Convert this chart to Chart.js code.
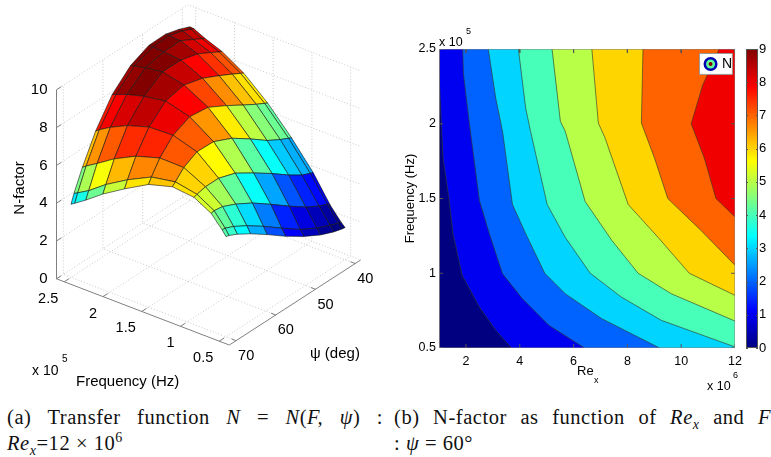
<!DOCTYPE html>
<html>
<head>
<meta charset="utf-8">
<script src="https://cdn.jsdelivr.net/npm/chart.js@4"></script>
<style>
  html, body { margin: 0; padding: 0; background: #fff; overflow: hidden; }
  body { width: 771px; height: 457px; position: relative; }
  canvas { position: absolute; }
  .cap { position: absolute; font-family: "Liberation Serif", serif; font-size: 20.5px; letter-spacing: 0.55px; line-height: 22px; white-space: nowrap; color: #111; }
  .just { text-align-last: justify; white-space: normal; }
  .cap sub { font-size: 14px; line-height: 0; }
  .cap sup { font-size: 14px; line-height: 0; }
</style>
</head>
<body>
<canvas id="surfaceChart" width="395" height="400" style="left:0;top:0"></canvas>
<canvas id="contourChart" width="345" height="374" style="left:403px;top:24px"></canvas>
<canvas id="colorbarChart" width="25" height="374" style="left:746px;top:24px"></canvas>
<div class="cap just" style="left:7px;top:406px;width:376px">(a) Transfer function <i>N</i> = <i>N</i>(<i>F, ψ</i>) :</div>
<div class="cap" style="left:7px;top:432px"><i>Re<sub>x</sub></i>=12 × 10<sup>6</sup></div>
<div class="cap just" style="left:394px;top:406px;width:377px">(b) N-factor as function of <i>Re<sub>x</sub></i> and <i>F</i></div>
<div class="cap" style="left:394px;top:432px">: <i>ψ</i> = 60°</div>
<script>
// surface grid (a)
const freqGrid = [0.5, 0.549, 0.691, 0.912, 1.191, 1.5, 1.809, 2.088, 2.309, 2.451, 2.5];
const psiGrid = [70, 69.26, 67.14, 63.82, 59.64, 55, 50.36, 46.18, 42.86, 40.74, 40];
// one row per psi, one column per frequency
const nGrid = [
  [5.30, 5.58, 6.23, 6.73, 6.85, 6.49, 5.77, 5.06, 4.39, 4.00, 3.87],
  [5.26, 5.57, 6.27, 6.79, 7.01, 6.78, 6.15, 5.46, 4.79, 4.45, 4.34],
  [5.04, 5.37, 6.20, 6.90, 7.48, 7.50, 7.11, 6.53, 5.94, 5.58, 5.43],
  [4.61, 4.96, 5.88, 6.90, 7.86, 8.25, 8.20, 7.84, 7.40, 7.05, 6.89],
  [4.00, 4.36, 5.37, 6.60, 7.83, 8.66, 9.01, 8.82, 8.57, 8.34, 8.26],
  [3.28, 3.63, 4.67, 5.98, 7.38, 8.53, 9.22, 9.48, 9.35, 9.22, 9.17],
  [2.64, 2.93, 3.94, 5.32, 6.71, 7.99, 8.95, 9.47, 9.56, 9.60, 9.61],
  [2.15, 2.44, 3.32, 4.67, 6.06, 7.45, 8.52, 9.23, 9.58, 9.63, 9.63],
  [1.86, 2.14, 2.93, 4.22, 5.66, 7.04, 8.15, 8.85, 9.20, 9.43, 9.43],
  [1.73, 1.95, 2.73, 4.02, 5.44, 6.80, 7.90, 8.60, 8.95, 9.23, 9.25],
  [1.70, 1.89, 2.58, 3.96, 5.36, 6.72, 7.82, 8.52, 8.87, 9.15, 9.18]
];
const nTicks = [0, 2, 4, 6, 8, 10];
const freqTicks = [0.5, 1, 1.5, 2, 2.5];
const psiTicks = [40, 50, 60, 70];

// contour lines (b), level k+1 separates band k from band k+1
const contourRe = [
  [1, 1.15, 1.37, 1.52, 1.86, 2.5, 3.11, 3.69],
  [1.88, 1.91, 2.13, 2.5, 2.87, 3.36, 4.10, 5.08, 6.41],
  [2.83, 3.11, 3.36, 3.73, 4.22, 4.93, 5.69, 7.05, 9.2],
  [3.95, 4.22, 4.40, 5.02, 5.69, 6.62, 7.78, 9.26, 12],
  [5.2, 5.51, 5.69, 6.43, 7.42, 8.4, 9.63, 12],
  [6.68, 6.92, 7.17, 8.03, 9.14, 10.3, 12],
  [8.58, 8.52, 9.01, 9.5, 10.73, 12],
  [11.41, 10.8, 10.37, 10.86, 11.29, 12]
];
const contourFreq = [
  [2.33, 1.77, 1.5, 1.265, 0.986, 0.774, 0.618, 0.5],
  [2.5, 2.33, 2.0, 1.488, 1.265, 0.997, 0.83, 0.652, 0.5],
  [2.5, 2.17, 1.95, 1.46, 1.265, 1.0, 0.863, 0.696, 0.5],
  [2.5, 2.105, 1.95, 1.46, 1.24, 1.0, 0.84, 0.685, 0.507],
  [2.5, 2.016, 1.95, 1.48, 1.22, 1.0, 0.863, 0.68],
  [2.5, 2.005, 1.905, 1.46, 1.24, 1.0, 0.852],
  [2.5, 2.005, 1.77, 1.5, 1.287, 1.053],
  [2.5, 2.26, 2.0, 1.77, 1.5, 1.376]
];
const reTicks = [2, 4, 6, 8, 10, 12];
const barTicks = [0, 1, 2, 3, 4, 5, 6, 7, 8, 9];
const barMax = [9];

const AXIS_GREY = '#808080';
const GRID_GREY = '#c8c8c8';
const SANS = '"Liberation Sans", Arial, sans-serif';
// axis limits of the 3D box
const F_LOW = 0.37, F_HIGH = 2.6, PSI_LOW = 38.6, PSI_HIGH = 71.7, N_TOP = 10;
const SURF_CMIN = 1.7, SURF_CMAX = 9.5;

function jet(t) {
  t = Math.min(1, Math.max(0, t));
  const c = v => Math.round(255 * Math.min(1, Math.max(0, v)));
  return `rgb(${c(1.5 - Math.abs(4 * t - 3))},${c(1.5 - Math.abs(4 * t - 2))},${c(1.5 - Math.abs(4 * t - 1))})`;
}

// orthographic view used for panel (a)
function project(f, psi, n) {
  return {
    x: 226 - 77.5 * (f - 0.5) + 3.97 * (70 - psi),
    y: 336.8 - 29.7 * (f - 0.5) - 2.57 * (70 - psi) - 18.9 * n
  };
}

function line(points, color, width, dash) {
  return { data: points, showLine: true, fill: false, borderColor: color, borderWidth: width,
    borderDash: dash || [], pointRadius: 0, tension: 0 };
}
function shape(points, color, edge, width) {
  return { data: points, showLine: true, fill: 'shape', backgroundColor: color, borderColor: edge,
    borderWidth: width, pointRadius: 0, tension: 0 };
}

// draws every text of a chart, items given in page pixels
const textPlugin = {
  id: 'texts',
  afterDraw(chart, args, opts) {
    const ctx = chart.ctx;
    for (const t of opts.items || []) {
      ctx.save();
      ctx.translate(t.x - (opts.originX || 0), t.y - (opts.originY || 0));
      if (t.rotate) ctx.rotate(t.rotate);
      ctx.font = t.font || `14px ${SANS}`;
      ctx.fillStyle = '#000';
      ctx.textAlign = t.align || 'left';
      ctx.textBaseline = 'middle';
      ctx.fillText(t.text, 0, 0);
      ctx.restore();
    }
  }
};
Chart.register(textPlugin);

function buildSurface() {
  const sets = [];
  const tickMark = (a, b) => sets.push(line([a, b], AXIS_GREY, 1));

  // walls and floor
  nTicks.forEach(n => {
    sets.push(line([project(F_HIGH, PSI_HIGH, n), project(F_HIGH, PSI_LOW, n), project(F_LOW, PSI_LOW, n)], GRID_GREY, 1, [1, 2]));
  });
  freqTicks.forEach(f => {
    sets.push(line([project(f, PSI_HIGH, 0), project(f, PSI_LOW, 0), project(f, PSI_LOW, N_TOP)], GRID_GREY, 1, [1, 2]));
  });
  psiTicks.forEach(p => {
    sets.push(line([project(F_LOW, p, 0), project(F_HIGH, p, 0), project(F_HIGH, p, N_TOP)], GRID_GREY, 1, [1, 2]));
  });

  // axes
  sets.push(line([project(F_HIGH, PSI_HIGH, 0), project(F_HIGH, PSI_HIGH, N_TOP)], AXIS_GREY, 1));
  sets.push(line([project(F_HIGH, PSI_HIGH, 0), project(F_LOW, PSI_HIGH, 0), project(F_LOW, PSI_LOW, 0)], AXIS_GREY, 1));
  nTicks.forEach(n => tickMark(project(F_HIGH, PSI_HIGH, n), project(F_HIGH, PSI_HIGH - 1.2, n)));
  freqTicks.forEach(f => tickMark(project(f, PSI_HIGH, 0), project(f, PSI_HIGH - 1.2, 0)));
  psiTicks.forEach(p => tickMark(project(F_LOW, p, 0), project(F_LOW + 0.06, p, 0)));

  // surface cells, back to front, flat colour taken from one corner as surf does
  for (let j = psiGrid.length - 2; j >= 0; j--) {
    for (let i = freqGrid.length - 2; i >= 0; i--) {
      const corners = [[i, j], [i + 1, j], [i + 1, j + 1], [i, j + 1], [i, j]];
      const pts = corners.map(([a, b]) => project(freqGrid[a], psiGrid[b], nGrid[b][a]));
      const level = nGrid[j + 1][i];
      sets.push(shape(pts, jet((level - SURF_CMIN) / (SURF_CMAX - SURF_CMIN)), 'rgba(20,20,20,0.75)', 0.8));
    }
  }
  return sets.reverse();
}

function surfaceTexts() {
  const items = [];
  nTicks.forEach(n => {
    const p = project(F_HIGH, PSI_HIGH, n);
    items.push({ text: String(n), x: p.x - 9, y: p.y, align: 'right', font: `15px ${SANS}` });
  });
  freqTicks.forEach(f => {
    const p = project(f, PSI_HIGH, 0);
    items.push({ text: String(f), x: p.x - 6, y: p.y + 17, align: 'right', font: `14.5px ${SANS}` });
  });
  psiTicks.forEach(v => {
    const p = project(F_LOW, v, 0);
    items.push({ text: String(v), x: p.x + 2, y: p.y + 15.5, font: `14.5px ${SANS}` });
  });
  items.push({ text: 'x 10', x: 32, y: 371, font: `14px ${SANS}` });
  items.push({ text: '5', x: 62, y: 359, font: `10px ${SANS}` });
  items.push({ text: 'Frequency (Hz)', x: 76, y: 382, font: `15px ${SANS}` });
  items.push({ text: 'ψ (deg)', x: 310, y: 354, font: `15px ${SANS}` });
  items.push({ text: 'N-factor', x: 20, y: 188, align: 'center', rotate: -Math.PI / 2, font: `15px ${SANS}` });
  return items;
}

const hiddenScale = (min, max, reverse) => ({ type: 'linear', min, max, reverse, display: false });

new Chart(document.getElementById('surfaceChart'), {
  type: 'scatter',
  data: { datasets: buildSurface() },
  options: {
    responsive: false,
    animation: false,
    layout: { padding: 0 },
    scales: { x: hiddenScale(0, 395, false), y: hiddenScale(0, 400, true) },
    plugins: {
      legend: { display: false },
      tooltip: { enabled: false },
      texts: { items: surfaceTexts() }
    }
  }
});

function buildContour() {
  const sets = [];
  const RE_MIN = 1, RE_MAX = 12, F_MIN = 0.5, F_MAX = 2.5;
  // lowest band fills the whole plot, each next level is painted over it
  sets.push(shape([{ x: RE_MIN, y: F_MIN }, { x: RE_MAX, y: F_MIN }, { x: RE_MAX, y: F_MAX }, { x: RE_MIN, y: F_MAX }, { x: RE_MIN, y: F_MIN }], jet(0), jet(0), 0));
  contourRe.forEach((res, k) => {
    const pts = res.map((r, m) => ({ x: r, y: contourFreq[k][m] }));
    const area = pts.concat([{ x: RE_MAX, y: F_MIN }, { x: RE_MAX, y: F_MAX }, { x: RE_MIN, y: F_MAX }]);
    if (pts[0].x > RE_MIN) area.push({ x: pts[0].x, y: F_MAX });
    area.push(pts[0]);
    sets.push(shape(area, jet((k + 1) / 9), 'rgba(0,0,0,0)', 0));
  });
  contourRe.forEach((res, k) => {
    sets.push(line(res.map((r, m) => ({ x: r, y: contourFreq[k][m] })), 'rgba(50,60,40,0.8)', 0.8));
  });
  // inward ticks
  reTicks.forEach(r => {
    sets.push(line([{ x: r, y: F_MIN }, { x: r, y: F_MIN + 0.027 }], '#555', 1));
    sets.push(line([{ x: r, y: F_MAX }, { x: r, y: F_MAX - 0.027 }], '#555', 1));
  });
  freqTicks.forEach(f => {
    sets.push(line([{ x: RE_MIN, y: f }, { x: RE_MIN + 0.15, y: f }], '#555', 1));
    sets.push(line([{ x: RE_MAX, y: f }, { x: RE_MAX - 0.15, y: f }], '#555', 1));
  });
  // frame
  sets.push(line([{ x: RE_MIN, y: F_MIN }, { x: RE_MAX, y: F_MIN }, { x: RE_MAX, y: F_MAX }, { x: RE_MIN, y: F_MAX }, { x: RE_MIN, y: F_MIN }], AXIS_GREY, 1));
  // legend box with its ring symbol
  sets.push(shape([{ x: 10.68, y: 2.33 }, { x: 11.9, y: 2.33 }, { x: 11.9, y: 2.47 }, { x: 10.68, y: 2.47 }, { x: 10.68, y: 2.33 }], '#fff', '#999', 1));
  [[7, jet(0.05)], [4.5, jet(0.47)], [2, jet(1)]].forEach(([radius, color]) => {
    sets.push({ data: [{ x: 11.09, y: 2.4 }], pointRadius: radius, pointBackgroundColor: color, pointBorderWidth: 0, showLine: false });
  });
  return sets.reverse();
}

const tickFont = { family: SANS, size: 12.5 };

new Chart(document.getElementById('contourChart'), {
  type: 'scatter',
  data: { datasets: buildContour() },
  options: {
    responsive: false,
    animation: false,
    layout: { padding: { top: 25, right: 10 } },
    scales: {
      x: {
        type: 'linear', min: 1, max: 12,
        afterFit: s => { s.height = 50; },
        afterBuildTicks: s => { s.ticks = reTicks.map(value => ({ value })); },
        grid: { display: false, drawTicks: false },
        border: { display: false },
        ticks: { color: '#000', font: tickFont, padding: 6, maxRotation: 0, callback: v => String(v) }
      },
      y: {
        type: 'linear', min: 0.5, max: 2.5,
        afterFit: s => { s.width = 36; },
        afterBuildTicks: s => { s.ticks = freqTicks.map(value => ({ value })); },
        grid: { display: false, drawTicks: false },
        border: { display: false },
        ticks: { color: '#000', font: tickFont, padding: 3, callback: v => String(v) },
        title: { display: true, text: 'Frequency (Hz)', color: '#000', font: { family: SANS, size: 13 }, padding: 0 }
      }
    },
    plugins: {
      legend: { display: false },
      tooltip: { enabled: false },
      texts: {
        originX: 403, originY: 24,
        items: [
          { text: 'x 10', x: 439, y: 43, font: `12.5px ${SANS}` },
          { text: '5', x: 466, y: 32, font: `9px ${SANS}` },
          { text: 'x 10', x: 707, y: 387, font: `12.5px ${SANS}` },
          { text: '6', x: 733, y: 376, font: `9px ${SANS}` },
          { text: 'Re', x: 577, y: 371, font: `13px ${SANS}` },
          { text: 'x', x: 594, y: 381, font: `9px ${SANS}` },
          { text: 'N', x: 722, y: 64, font: `14px ${SANS}` }
        ]
      }
    }
  }
});

function jetGradient(chart) {
  const area = chart.chartArea;
  if (!area) return jet(0.5);
  const g = chart.ctx.createLinearGradient(0, area.bottom, 0, area.top);
  [0, 0.125, 0.375, 0.625, 0.875, 1].forEach(s => g.addColorStop(s, jet(s)));
  return g;
}

new Chart(document.getElementById('colorbarChart'), {
  type: 'bar',
  data: {
    labels: ['N'],
    datasets: [
      { data: barMax, backgroundColor: ctx => jetGradient(ctx.chart), barPercentage: 1, categoryPercentage: 1 }
    ]
  },
  options: {
    responsive: false,
    animation: false,
    layout: { padding: { top: 25, bottom: 50 } },
    scales: {
      x: { display: false },
      y: {
        position: 'right', min: 0, max: 9,
        afterFit: s => { s.width = 13; },
        afterBuildTicks: s => { s.ticks = barTicks.map(value => ({ value })); },
        grid: { display: false, drawTicks: false },
        border: { display: false },
        ticks: { color: '#000', font: { family: SANS, size: 13 }, padding: 1, callback: v => String(v) }
      }
    },
    plugins: { legend: { display: false }, tooltip: { enabled: false } }
  },
  plugins: [{
    id: 'barFrame',
    afterDatasetsDraw(chart) {
      const { ctx, chartArea: a, scales: { y } } = chart;
      ctx.save();
      ctx.strokeStyle = '#555';
      ctx.lineWidth = 1;
      ctx.strokeRect(a.left + 0.5, a.top + 0.5, a.width - 1, a.height - 1);
      barTicks.forEach(v => {
        const py = Math.round(y.getPixelForValue(v)) + 0.5;
        ctx.beginPath();
        ctx.moveTo(a.left, py); ctx.lineTo(a.left + 2, py);
        ctx.moveTo(a.right, py); ctx.lineTo(a.right - 2, py);
        ctx.stroke();
      });
      ctx.restore();
    }
  }]
});
</script>
</body>
</html>
